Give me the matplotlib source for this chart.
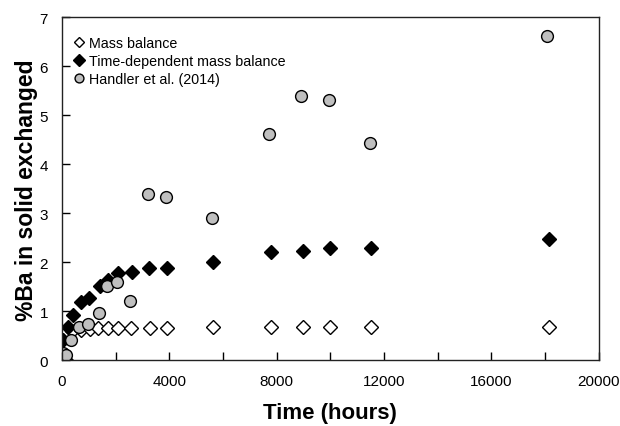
import matplotlib
matplotlib.use("Agg")
import matplotlib.pyplot as plt
from matplotlib.ticker import MultipleLocator, FuncFormatter

plt.rcParams['font.family'] = ['Liberation Sans', 'DejaVu Sans']

# Mass balance (open diamonds)
t_mb = [110, 360, 720, 1045, 1355, 1730, 2075, 2570, 3280, 3900, 5640, 7775, 8970, 9990, 11500, 18150]
v_mb = [0.57, 0.61, 0.63, 0.65, 0.66, 0.66, 0.66, 0.66, 0.66, 0.66, 0.68, 0.68, 0.68, 0.68, 0.68, 0.68]

# Time-dependent mass balance (filled diamonds)
t_td = [20, 150, 210, 420, 720, 1020, 1415, 1730, 2090, 2600, 3255, 3900, 5640, 7775, 8970, 9990, 11500, 18150]
v_td = [0.42, 0.0, 0.69, 0.92, 1.19, 1.27, 1.52, 1.64, 1.78, 1.81, 1.88, 1.88, 2.01, 2.21, 2.24, 2.29, 2.29, 2.47]

# Handler et al. (2014) (gray circles)
t_h = [40, 150, 350, 640, 955, 1365, 1680, 2035, 2535, 3205, 3865, 5590, 7725, 8915, 9935, 11475, 18085]
v_h = [0.15, 0.12, 0.42, 0.68, 0.74, 0.97, 1.51, 1.60, 1.21, 3.39, 3.33, 2.91, 4.62, 5.40, 5.32, 4.43, 6.61]

labels = ["Mass balance", "Time-dependent mass balance", "Handler et al. (2014)"]

fig = plt.figure(figsize=(6.2, 4.27), dpi=100)
ax = fig.add_axes([0.1, 0.1534, 0.8656, 0.8037])

ax.plot(t_mb, v_mb, linestyle='none', marker='D', markersize=7, markerfacecolor='white',
        markeredgecolor='black', markeredgewidth=1.0, label=labels[0])
ax.plot(t_td, v_td, linestyle='none', marker='D', markersize=7.5, markerfacecolor='black',
        markeredgecolor='black', markeredgewidth=1.0, label=labels[1])
ax.plot(t_h, v_h, linestyle='none', marker='o', markersize=8.5, markerfacecolor='#bfbfbf',
        markeredgecolor='black', markeredgewidth=1.0, label=labels[2])

ax.set_xlim(0, 20000)
ax.set_ylim(0, 7)
ax.xaxis.set_major_locator(MultipleLocator(2000))
ax.xaxis.set_major_formatter(FuncFormatter(lambda v, p: f"{int(v)}" if int(v) % 4000 == 0 else ""))
ax.yaxis.set_major_locator(MultipleLocator(1))
ax.tick_params(direction='in', length=6, width=1, labelsize=11, colors='black')
ax.tick_params(axis='x', pad=10)
ax.tick_params(axis='y', pad=10)
for s in ax.spines.values():
    s.set_linewidth(1.0)
    s.set_color('#222222')

ax.set_xlabel("Time (hours)", fontsize=16, fontweight='bold', labelpad=10)
ax.set_ylabel("%Ba in solid exchanged", fontsize=16.5, fontweight='bold', labelpad=1)

ax.legend(loc='upper left', frameon=False, fontsize=10.3, markerscale=0.75,
          handletextpad=0.1, handlelength=1.2, labelspacing=0.3,
          borderaxespad=0.4, bbox_to_anchor=(-0.006, 0.98))

fig.savefig("out.png", dpi=100)
